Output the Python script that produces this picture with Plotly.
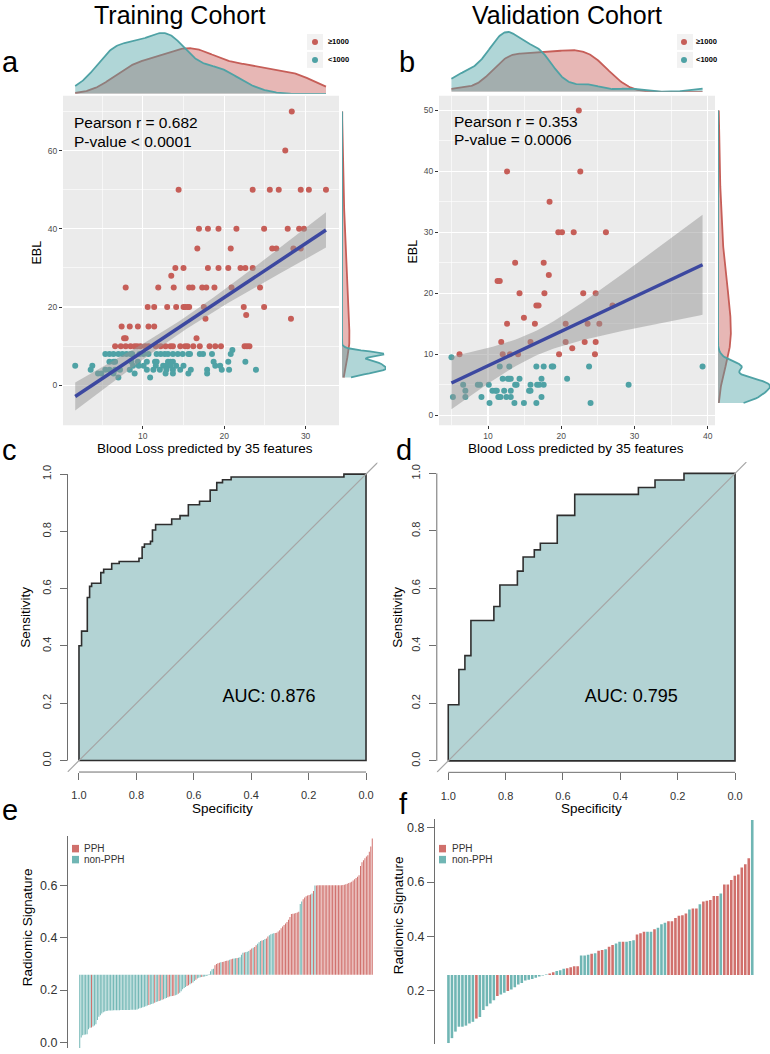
import numpy as np
import plotly.graph_objects as go

W, H = 770, 1054

# ---------------- data ----------------
# Training cohort: (blood loss predicted by 35 features, EBL in 100 mL)
train_hi = [
    (28.3, 70), (27.5, 60),
    (14.4, 50), (23.5, 50), (25.6, 50), (26.7, 50), (29.4, 50), (30.4, 50), (32.5, 50),
    (16.9, 40), (18.0, 40), (19.3, 40), (21.5, 40), (24.9, 40), (27.8, 40), (29.2, 40), (29.8, 40),
    (16.7, 35), (20.8, 35), (25.9, 35), (26.4, 35), (28.5, 35), (29.4, 35),
    (14.0, 30), (15.0, 30), (18.0, 30), (19.3, 30), (20.5, 30), (22.0, 30), (22.6, 30), (23.5, 30),
    (13.5, 28),
    (7.9, 25), (11.9, 25), (13.8, 25), (15.7, 25), (16.1, 25), (17.3, 25), (17.8, 25), (18.8, 25),
    (20.9, 25), (24.4, 25),
    (10.6, 20), (11.4, 20), (13.0, 20), (14.1, 20), (15.0, 20), (15.2, 20), (15.5, 20), (15.7, 20),
    (17.5, 20), (22.4, 20), (24.9, 20),
    (22.7, 18), (17.7, 17), (28.2, 17),
    (7.4, 15), (8.4, 15), (9.4, 15), (10.7, 15), (11.4, 15),
    (7.7, 12), (7.9, 12), (16.6, 12),
    (6.6, 10), (7.3, 10), (7.9, 10), (8.5, 10), (9.0, 10), (9.3, 10), (9.7, 10), (10.3, 10),
    (10.7, 10), (11.6, 10), (12.2, 10), (12.8, 10), (13.4, 10), (13.7, 10), (14.6, 10), (15.2, 10),
    (15.5, 10), (16.2, 10), (17.0, 10), (18.2, 10), (18.9, 10), (19.6, 10), (22.5, 10), (22.8, 10),
    (23.1, 10),
]
train_lo = [
    (21.0, 9),
    (5.4, 8), (5.9, 8), (6.4, 8), (7.0, 8), (7.5, 8), (8.0, 8), (8.5, 8), (8.7, 8), (9.6, 8),
    (10.1, 8), (10.7, 8), (11.7, 8), (12.2, 8), (12.7, 8), (13.1, 8), (13.7, 8), (14.3, 8),
    (14.9, 8), (15.6, 8), (15.8, 8), (17.0, 8), (17.4, 8), (18.5, 8), (20.8, 8),
    (5.9, 6), (6.4, 6), (6.6, 6), (8.6, 6), (9.4, 6), (10.5, 6), (11.5, 6), (11.7, 6), (13.1, 6),
    (13.4, 6), (13.7, 6), (18.7, 6), (20.5, 6), (22.6, 6),
    (1.7, 5), (3.8, 5), (8.8, 5), (9.5, 5), (10.1, 5), (11.6, 5), (12.5, 5), (12.9, 5), (13.4, 5),
    (14.1, 5), (15.0, 5), (18.9, 5), (19.5, 5),
    (3.6, 4), (5.4, 4), (5.9, 4), (6.6, 4), (7.2, 4), (8.4, 4), (10.5, 4), (11.3, 4), (12.1, 4),
    (12.9, 4), (13.7, 4), (14.6, 4), (15.9, 4), (17.9, 4), (19.7, 4), (20.6, 4), (23.9, 4),
    (4.5, 3), (4.9, 3), (6.4, 3), (9.0, 3), (12.8, 3), (13.7, 3), (15.6, 3), (17.9, 3),
    (7.0, 2), (10.9, 2),
]
# Validation cohort
valid_hi = [
    (22.4, 50), (12.6, 40), (22.6, 40), (18.4, 35),
    (19.6, 30), (20.1, 30), (21.7, 30), (26.1, 30),
    (13.7, 25), (17.6, 25), (18.3, 23), (11.3, 22), (11.6, 22),
    (14.3, 20), (17.7, 20), (23.0, 20), (24.7, 20),
    (16.6, 18), (16.9, 18), (27.0, 18), (14.9, 16),
    (12.6, 15), (16.4, 15), (20.6, 15), (23.6, 15), (25.2, 15),
    (11.8, 12), (15.8, 12), (20.6, 12), (23.2, 12), (24.7, 12), (21.5, 11),
    (6.1, 10), (12.0, 10), (13.0, 10), (14.1, 10), (19.7, 10), (24.6, 10),
]
valid_lo = [
    (5.0, 9.5),
    (11.6, 8), (12.9, 8), (16.6, 8), (17.6, 8), (18.7, 8), (18.9, 8), (23.8, 8), (39.3, 8),
    (12.0, 6), (12.7, 6), (12.9, 6), (13.1, 6), (14.3, 6), (17.3, 6), (20.8, 6),
    (6.6, 5), (8.6, 5), (8.9, 5), (10.1, 5), (13.7, 5), (13.9, 5), (15.8, 5), (16.7, 5), (17.0, 5),
    (17.6, 5), (29.2, 5),
    (6.9, 4), (10.6, 4), (11.0, 4), (11.2, 4), (12.2, 4), (13.1, 4), (15.6, 4), (15.8, 4),
    (5.2, 3), (6.9, 3), (9.1, 3), (11.4, 3), (11.7, 3), (12.5, 3), (13.1, 3), (17.3, 3),
    (10.2, 2), (13.6, 2), (14.9, 2), (16.6, 2), (24.0, 2),
]
train_text = ["Pearson r = 0.682", "P-value < 0.0001"]
valid_text = ["Pearson r = 0.353", "P-value = 0.0006"]

# ROC curves (specificity, sensitivity) step vertices
roc_c_spec = [1.0, 1.0, 0.991, 0.971, 0.963, 0.956, 0.924, 0.914, 0.886, 0.86, 0.791, 0.78, 0.772,
              0.751, 0.744, 0.733, 0.677, 0.648, 0.619, 0.58, 0.543, 0.52, 0.5, 0.47, 0.077, 0.0]
roc_c_sens = [0.0, 0.401, 0.452, 0.569, 0.608, 0.619, 0.656, 0.668, 0.688, 0.695, 0.706, 0.745, 0.756,
              0.765, 0.805, 0.824, 0.843, 0.855, 0.893, 0.905, 0.944, 0.97, 0.98, 0.99, 1.0, 1.0]
roc_d_spec = [1.0, 1.0, 0.963, 0.942, 0.921, 0.841, 0.82, 0.759, 0.739, 0.70, 0.679, 0.62, 0.559,
              0.337, 0.279, 0.178, 0.0]
roc_d_sens = [0.0, 0.195, 0.318, 0.366, 0.488, 0.537, 0.612, 0.66, 0.709, 0.734, 0.757, 0.854, 0.927,
              0.951, 0.977, 1.0, 1.0]
auc_c = "AUC: 0.876"
auc_d = "AUC: 0.795"
spec_ticks = [1.0, 0.8, 0.6, 0.4, 0.2, 0.0]
sens_ticks = [0.0, 0.2, 0.4, 0.6, 0.8, 1.0]

# Radiomic signature waterfall (sorted), R = PPH, T = non-PPH
cutoff = 0.2585
sig_train = [
    -0.034, 0.018, 0.027, 0.029, 0.030, 0.031, 0.050, 0.056, 0.057, 0.060,
    0.064, 0.069, 0.085, 0.098, 0.104, 0.110, 0.115, 0.118, 0.120, 0.121,
    0.122, 0.122, 0.122, 0.123, 0.123, 0.123, 0.123, 0.123, 0.124, 0.124,
    0.124, 0.124, 0.124, 0.124, 0.124, 0.125, 0.125, 0.125, 0.125, 0.126,
    0.128, 0.130, 0.132, 0.134, 0.136, 0.138, 0.141, 0.143, 0.145, 0.147,
    0.149, 0.151, 0.154, 0.156, 0.158, 0.160, 0.163, 0.165, 0.168, 0.170,
    0.173, 0.175, 0.176, 0.177, 0.178, 0.180, 0.182, 0.186, 0.190, 0.196,
    0.203, 0.208, 0.212, 0.216, 0.219, 0.222, 0.226, 0.229, 0.235, 0.240,
    0.244, 0.247, 0.249, 0.250, 0.251, 0.252, 0.254, 0.256, 0.262, 0.272,
    0.280, 0.282, 0.295, 0.300, 0.303, 0.305, 0.307, 0.308, 0.309, 0.311,
    0.312, 0.313, 0.316, 0.318, 0.320, 0.321, 0.322, 0.323, 0.324, 0.326,
    0.335, 0.343, 0.344, 0.346, 0.347, 0.350, 0.355, 0.359, 0.362, 0.365,
    0.372, 0.378, 0.383, 0.388, 0.390, 0.392, 0.396, 0.398, 0.405, 0.410,
    0.414, 0.416, 0.418, 0.419, 0.420, 0.425, 0.429, 0.437, 0.444, 0.449,
    0.455, 0.461, 0.470, 0.480, 0.492, 0.493, 0.494, 0.495, 0.497, 0.500,
    0.530, 0.540, 0.548, 0.555, 0.560, 0.563, 0.564, 0.566, 0.570, 0.580,
    0.601, 0.601, 0.602, 0.602, 0.602, 0.602, 0.602, 0.602, 0.602, 0.602,
    0.602, 0.602, 0.602, 0.602, 0.602, 0.602, 0.602, 0.602, 0.602, 0.603,
    0.604, 0.606, 0.608, 0.610, 0.612, 0.615, 0.620, 0.625, 0.630, 0.634,
    0.640, 0.676, 0.690, 0.698, 0.705, 0.712, 0.717, 0.730, 0.750, 0.781,
]
grp_train = list(
    "TTTTTTTTRT" "TTTTTTTTTT" "TTTTTTTTTT" "TTTTTTTTTT" "TTTTTTTRTT"
    "TRTTRTRTTT" "RRTRRTTRTT" "TTTRRTRTTR" "TTTRTTTTTT" "TTRRRRTRRR"
    "RRTRRTTRTT" "TTRTTTRRTR" "RTTTRTTRRT" "TTTRRRRRRR" "RRRRRRRRRR"
    "TTRRRRRRTR" "TRRRRRRRRR" "RRRRRRRRRR" "RRRRRRRRRR" "RRRRRRRRRR"
)
sig_valid = [
    0.008, 0.026, 0.050, 0.068, 0.068, 0.072, 0.080, 0.086, 0.098, 0.104,
    0.129, 0.143, 0.153, 0.165, 0.181, 0.186, 0.193, 0.199, 0.205, 0.213,
    0.223, 0.229, 0.238, 0.241, 0.243, 0.248, 0.253, 0.256, 0.260, 0.264,
    0.268, 0.273, 0.276, 0.281, 0.283, 0.287, 0.290, 0.290, 0.330, 0.330,
    0.333, 0.336, 0.338, 0.347, 0.350, 0.353, 0.362, 0.368, 0.374, 0.380,
    0.380, 0.380, 0.383, 0.386, 0.407, 0.412, 0.417, 0.417, 0.417, 0.426,
    0.432, 0.445, 0.450, 0.456, 0.456, 0.468, 0.476, 0.478, 0.484, 0.499,
    0.503, 0.503, 0.518, 0.528, 0.531, 0.534, 0.549, 0.549, 0.558, 0.591,
    0.591, 0.607, 0.623, 0.628, 0.653, 0.665, 0.687, 0.828,
]
grp_valid = list(
    "TTTTTTTTRT" "TTTTRTTRTT" "TTTTTTTTTR" "RTTTRRRRTT" "TRTRRTRRTT"
    "RTTTRRRTTR" "TTTRRRRRRT" "RRTRRRRRTR" "RRRRRRRT"
)

# ---------------- style ----------------
RED = "#C65E58"
TEAL = "#4FA2A5"
RED_F = "rgba(201,96,90,0.45)"
TEAL_F = "rgba(80,163,166,0.45)"
BAR_R = "#D0706C"
BAR_T = "#70B6B4"
ROC_FILL = "#B3D3D4"
FONT = "Liberation Sans, Arial, sans-serif"
AX = "#6E6E6E"


def px(x):
    return x / W


def py(y):
    return 1 - y / H


def xy(pts):
    return np.array([p[0] for p in pts], float), np.array([p[1] for p in pts], float)


def bw_nrd0(v):
    v = np.asarray(v, float)
    sd = v.std(ddof=1)
    q75, q25 = np.percentile(v, [75, 25])
    lo = min(sd, (q75 - q25) / 1.34) if q75 > q25 else sd
    return 0.9 * lo * len(v) ** -0.2


def kde(v, grid):
    v = np.asarray(v, float)
    bw = bw_nrd0(v)
    z = (grid[:, None] - v[None, :]) / bw
    return np.exp(-0.5 * z ** 2).sum(axis=1) / (len(v) * bw * np.sqrt(2 * np.pi))


def fit_band(x, y, tval):
    n = len(x)
    b1, b0 = np.polyfit(x, y, 1)
    xs = np.linspace(x.min(), x.max(), 80)
    yh = b0 + b1 * xs
    res = y - (b0 + b1 * x)
    s = np.sqrt((res ** 2).sum() / (n - 2))
    se = s * np.sqrt(1 / n + (xs - x.mean()) ** 2 / ((x - x.mean()) ** 2).sum())
    return xs, yh, yh - tval * se, yh + tval * se


fig = go.Figure()
shapes = []
annots = []


def ann(text, x, y, size, xanchor="center", yanchor="middle", color="black", angle=0, **kw):
    annots.append(dict(text=text, x=px(x), y=py(y), xref="paper", yref="paper", showarrow=False,
                       xanchor=xanchor, yanchor=yanchor, textangle=angle,
                       font=dict(size=size, color=color, family=FONT), **kw))


# ---------------- scatter panels ----------------
def scatter_panel(hi, lo, sx, sy, tx, ty, rx, ry, tval):
    hx, hy = xy(hi)
    lx, ly = xy(lo)
    ax_all = np.concatenate([hx, lx])
    ay_all = np.concatenate([hy, ly])
    fig.add_trace(go.Scatter(x=hx, y=hy, mode="markers", marker=dict(size=6, color=RED),
                             xaxis=sx, yaxis=sy, showlegend=False))
    fig.add_trace(go.Scatter(x=lx, y=ly, mode="markers", marker=dict(size=6, color=TEAL),
                             xaxis=sx, yaxis=sy, showlegend=False))
    xs, yh, lo_b, up_b = fit_band(ax_all, ay_all, tval)
    fig.add_trace(go.Scatter(x=xs, y=lo_b, mode="lines", line=dict(width=0), xaxis=sx, yaxis=sy,
                             showlegend=False, hoverinfo="skip"))
    fig.add_trace(go.Scatter(x=xs, y=up_b, mode="lines", line=dict(width=0), fill="tonexty",
                             fillcolor="rgba(150,150,150,0.5)", xaxis=sx, yaxis=sy,
                             showlegend=False, hoverinfo="skip"))
    fig.add_trace(go.Scatter(x=xs, y=yh, mode="lines", line=dict(width=3.5, color="#3C48A0"),
                             xaxis=sx, yaxis=sy, showlegend=False))
    # top marginal density (x)
    gx = np.linspace(ax_all.min(), ax_all.max(), 256)
    dxr, dxt = kde(hx, gx), kde(lx, gx)
    fig.add_trace(go.Scatter(x=gx, y=dxr, mode="lines", line=dict(color=RED, width=1.8), fill="tozeroy",
                             fillcolor=RED_F, xaxis=tx, yaxis=ty, showlegend=False))
    fig.add_trace(go.Scatter(x=gx, y=dxt, mode="lines", line=dict(color=TEAL, width=1.8), fill="tozeroy",
                             fillcolor=TEAL_F, xaxis=tx, yaxis=ty, showlegend=False))
    # right marginal density (y)
    gy = np.linspace(ay_all.min(), ay_all.max(), 256)
    dyr, dyt = kde(hy, gy), kde(ly, gy)
    fig.add_trace(go.Scatter(x=dyr, y=gy, mode="lines", line=dict(color=RED, width=1.8), fill="tozerox",
                             fillcolor=RED_F, xaxis=rx, yaxis=ry, showlegend=False))
    fig.add_trace(go.Scatter(x=dyt, y=gy, mode="lines", line=dict(color=TEAL, width=1.8), fill="tozerox",
                             fillcolor=TEAL_F, xaxis=rx, yaxis=ry, showlegend=False))
    return max(dxr.max(), dxt.max()), max(dyr.max(), dyt.max())


mxa, mya = scatter_panel(train_hi, train_lo, "x", "y", "x2", "y2", "x3", "y3", 1.974)
mxb, myb = scatter_panel(valid_hi, valid_lo, "x4", "y4", "x5", "y5", "x6", "y6", 1.989)


# ---------------- ROC panels ----------------
def roc_panel(spec, sens, xa, ya, label, lx, ly):
    fig.add_trace(go.Scatter(x=spec + [0.0, 1.0], y=sens + [0.0, 0.0], mode="lines",
                             line=dict(shape="hv", color="#2E2E2E", width=1.6),
                             fill="toself", fillcolor=ROC_FILL, xaxis=xa, yaxis=ya, showlegend=False))
    fig.add_trace(go.Scatter(x=[1.1, -0.1], y=[-0.1, 1.1], mode="lines",
                             line=dict(color="#A6A6A6", width=1.2), xaxis=xa, yaxis=ya, showlegend=False))
    fig.add_trace(go.Scatter(x=[lx], y=[ly], mode="text", text=[label],
                             textfont=dict(size=18, family=FONT, color="black"),
                             xaxis=xa, yaxis=ya, showlegend=False))
    shapes.append(dict(type="line", xref=xa + " domain", yref=ya, x0=0, x1=0, y0=0, y1=1,
                       line=dict(color=AX, width=1)))
    shapes.append(dict(type="line", xref=xa, yref=ya + " domain", x0=1, x1=0, y0=0, y1=0,
                       line=dict(color=AX, width=1)))


roc_panel(roc_c_spec, roc_c_sens, "x7", "y7", auc_c, 0.338, 0.22)
roc_panel(roc_d_spec, roc_d_sens, "x8", "y8", auc_d, 0.362, 0.22)


# ---------------- waterfall panels ----------------
def bar_panel(vals, grp, xa, ya, bw):
    idx = list(range(len(vals)))
    fig.add_trace(go.Bar(x=idx, y=[v - cutoff for v in vals], base=cutoff, width=bw,
                         marker=dict(color=[BAR_R if g == "R" else BAR_T for g in grp], line=dict(width=0)),
                         xaxis=xa, yaxis=ya, showlegend=False))


bar_panel(sig_train, grp_train, "x9", "y9", 0.68)
bar_panel(sig_valid, grp_valid, "x10", "y10", 0.74)

# ---------------- axes ----------------
hidden = dict(visible=False, showgrid=False, zeroline=False)


def gg_axis(dom, rng, dtick, mdtick, anchor, tickvals=None):
    d = dict(domain=dom, range=rng, anchor=anchor, showgrid=True, gridcolor="white", gridwidth=1.2,
             zeroline=False, showline=False, ticks="outside", ticklen=3, tickcolor="#333333",
             tickfont=dict(size=8.5, color="#4D4D4D", family=FONT),
             minor=dict(dtick=mdtick, tick0=0, showgrid=True, gridcolor="white", gridwidth=0.6))
    if tickvals is not None:
        d["tickvals"] = tickvals
    else:
        d["dtick"] = dtick
        d["tick0"] = 0
    return d


ya_dom = [py(426), py(96)]
lay = {}
lay["xaxis"] = gg_axis([px(63), px(339)], [0.2, 34.1], 10, 5, "y", tickvals=[10, 20, 30])
lay["yaxis"] = gg_axis(ya_dom, [-10.2, 74.0], 20, 10, "x")
lay["xaxis2"] = dict(hidden, domain=[px(63), px(339)], range=[0.2, 34.1], anchor="y2")
lay["yaxis2"] = dict(hidden, domain=[py(94), py(31)], range=[0, mxa * 63 / 61], anchor="x2")
lay["xaxis3"] = dict(hidden, domain=[px(342), px(386)], range=[0, mya], anchor="y3")
lay["yaxis3"] = dict(hidden, domain=ya_dom, range=[-10.2, 74.0], anchor="x3")

lay["xaxis4"] = gg_axis([px(439), px(715)], [3.3, 41.0], 10, 5, "y4", tickvals=[10, 20, 30, 40])
lay["yaxis4"] = gg_axis(ya_dom, [-1.64, 52.4], 10, 5, "x4")
lay["xaxis5"] = dict(hidden, domain=[px(439), px(715)], range=[3.3, 41.0], anchor="y5")
lay["yaxis5"] = dict(hidden, domain=[py(92), py(30)], range=[0, mxb * 62 / 60], anchor="x5")
lay["xaxis6"] = dict(hidden, domain=[px(718), px(770)], range=[0, myb], anchor="y6")
lay["yaxis6"] = dict(hidden, domain=ya_dom, range=[-1.64, 52.4], anchor="x6")


def roc_axes(xdom, ydom, xa, ya):
    lay[xa] = dict(domain=xdom, range=[1.04, -0.04], anchor=ya.replace("axis", ""), showgrid=False,
                   zeroline=False, showline=False, ticks="outside", ticklen=7, tickcolor=AX,
                   tickvals=spec_ticks, ticktext=["%.1f" % v for v in spec_ticks],
                   tickfont=dict(size=11, color="#333333", family=FONT), ticklabelstandoff=6)
    lay[ya] = dict(domain=ydom, range=[-0.04, 1.04], anchor=xa.replace("axis", ""), showgrid=False,
                   zeroline=False, showline=False, ticks="outside", ticklen=7, tickcolor=AX,
                   tickvals=sens_ticks, ticktext=["%.1f" % v for v in sens_ticks], tickangle=-90,
                   tickfont=dict(size=11, color="#333333", family=FONT), ticklabelstandoff=4)


roc_axes([px(67.5), px(377.5)], [py(773.5), py(463.5)], "xaxis7", "yaxis7")
roc_axes([px(436.8), px(746.5)], [py(773.8), py(462.8)], "xaxis8", "yaxis8")


def bar_axes(xdom, ydom, xa, ya, n, pad_px, bar_px, yrng, ticks):
    pad = pad_px / (bar_px / n)
    lay[xa] = dict(hidden, domain=xdom, range=[-0.5 - pad, n - 0.5], anchor=ya.replace("axis", ""))
    lay[ya] = dict(domain=ydom, range=yrng, anchor=xa.replace("axis", ""), showgrid=False, zeroline=False,
                   showline=True, linecolor=AX, linewidth=1, ticks="outside", ticklen=7, tickcolor=AX,
                   tickvals=ticks, ticktext=["%.1f" % v for v in ticks],
                   tickfont=dict(size=12.5, color="#333333", family=FONT))


bar_axes([px(68), px(373)], [py(1050), py(838)], "xaxis9", "yaxis9", len(sig_train), 11, 294,
         [-0.022, 0.789], [0.0, 0.2, 0.4, 0.6])
bar_axes([px(435), px(754)], [py(1046), py(821)], "xaxis10", "yaxis10", len(sig_valid), 11.7, 307,
         [0.0044, 0.830], [0.2, 0.4, 0.6, 0.8])

# ggplot grey panels
for xa, ya in (("x", "y"), ("x4", "y4")):
    shapes.append(dict(type="rect", xref=xa + " domain", yref=ya + " domain", x0=0, x1=1, y0=0, y1=1,
                       fillcolor="#EBEBEB", line=dict(width=0), layer="below"))

# marginal legends
for lx0, dot_x, txt_x in ((307, 315, 326), (677, 684, 694)):
    for yc, col, lab in ((42, RED, "≥1000"), (60, TEAL, "<1000")):
        shapes.append(dict(type="rect", xref="paper", yref="paper", x0=px(lx0), x1=px(lx0 + 16),
                           y0=py(yc + 8), y1=py(yc - 8), fillcolor="#F2F2F2", line=dict(width=0)))
        shapes.append(dict(type="circle", xref="paper", yref="paper", x0=px(dot_x - 3), x1=px(dot_x + 3),
                           y0=py(yc + 3), y1=py(yc - 3), fillcolor=col, line=dict(width=0)))
        ann("<b>%s</b>" % lab, txt_x, yc, 7.5, xanchor="left")

# waterfall legends
for sx, tx in ((72, 82), (439, 450)):
    for yc, col, lab in ((850, BAR_R, "PPH"), (861, BAR_T, "non-PPH")):
        shapes.append(dict(type="rect", xref="paper", yref="paper", x0=px(sx), x1=px(sx + 7),
                           y0=py(yc + 4), y1=py(yc - 3.5), fillcolor=col, line=dict(width=0)))
        ann(lab, tx, yc, 10, xanchor="left", color="#333333")

# ---------------- text ----------------
ann("Training Cohort", 179, 15, 25)
ann("Validation Cohort", 567, 15, 25)
for lab, x, y in (("a", 0, 62), ("b", 397, 62), ("c", 0, 451), ("d", 394, 451), ("e", 0, 812), ("f", 397, 806)):
    ann(lab, x, y, 29, xanchor="left")

ann(train_text[0], 72, 123, 15.5, xanchor="left")
ann(train_text[1], 72, 142, 15.5, xanchor="left")
ann(valid_text[0], 452, 122, 15.5, xanchor="left")
ann(valid_text[1], 452, 140, 15.5, xanchor="left")

ann("Blood Loss predicted by 35 features", 205, 449, 13.5)
ann("Blood Loss predicted by 35 features", 576, 449, 13.5)
ann("EBL", 37, 253, 12.5, angle=-90)
ann("EBL", 413, 252, 12.5, angle=-90)

ann("Specificity", 222, 810, 13.5)
ann("Specificity", 591, 810, 13.5)
ann("Sensitivity", 26, 618, 13.5, angle=-90)
ann("Sensitivity", 398, 618, 13.5, angle=-90)

ann("Radiomic Signature", 27, 929, 13.5, angle=-90)
ann("Radiomic Signature", 398, 917, 13.5, angle=-90)

fig.update_layout(
    width=W, height=H, margin=dict(l=0, r=0, t=0, b=0),
    paper_bgcolor="white", plot_bgcolor="rgba(0,0,0,0)",
    font=dict(family=FONT), showlegend=False, hovermode=False,
    shapes=shapes, annotations=annots, **lay,
)
fig.write_html(
    "out.html",
    config={"displayModeBar": False, "staticPlot": True},
    post_script=("document.body.style.margin='0';document.body.style.padding='0';"
                 "document.documentElement.style.overflow='hidden';"),
)
